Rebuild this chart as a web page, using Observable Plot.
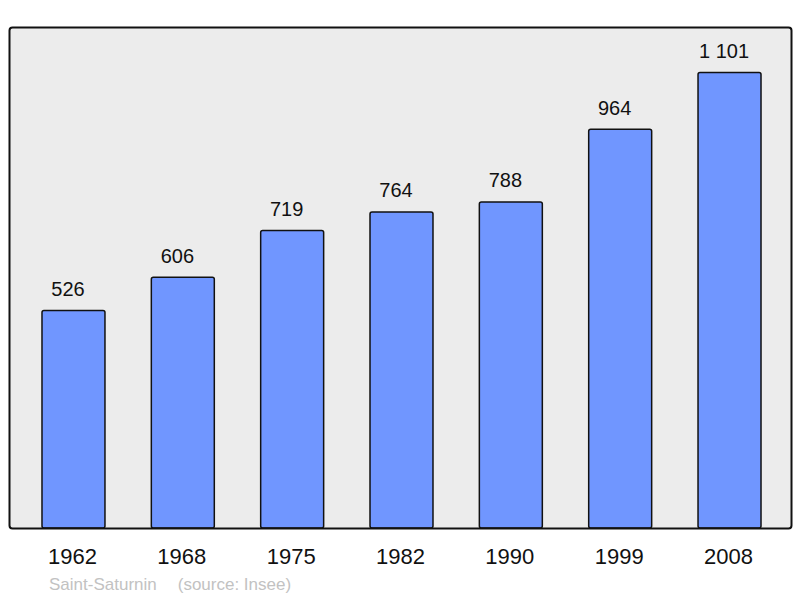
<!DOCTYPE html>
<html>
<head>
<meta charset="utf-8">
<script src="https://cdn.jsdelivr.net/npm/d3@7"></script>
<script src="https://cdn.jsdelivr.net/npm/@observablehq/plot@0.6"></script>
<style>
  body { margin: 0; background: #fff; font-family: "Liberation Sans", Arial, sans-serif; }
  #wrap { position: relative; width: 800px; height: 598px; }
  #caption { position: absolute; left: 49px; top: 575px; font-size: 17px; color: #c2c2c2; white-space: pre; }
</style>
</head>
<body>
<div id="wrap">
  <div id="chart"></div>
  <div id="caption"><span>Saint-Saturnin</span><span style="margin-left:21px">(source: Insee)</span></div>
</div>
<script>
const years = ["1962", "1968", "1975", "1982", "1990", "1999", "2008"];
const population = [526, 606, 719, 764, 788, 964, 1101];

const data = years.map((y, i) => ({year: y, value: population[i]}));
const fmt = v => String(v).replace(/\B(?=(\d{3})+(?!\d))/g, " ");

const chart = Plot.plot({
  width: 800,
  height: 598,
  marginLeft: 9,
  marginRight: 9,
  marginTop: 27,
  marginBottom: 70,
  style: {fontFamily: "Liberation Sans, Arial, sans-serif", background: "transparent"},
  x: {domain: years, range: [10.5, 792.5], paddingInner: 0.424, paddingOuter: 0.288, round: false, label: null},
  y: {domain: [0, 1211], axis: null},
  marks: [
    Plot.frame({fill: "#ececec", stroke: "none", rx: 3}),
    Plot.barY(data, {x: "year", y: "value", fill: "#7096ff", stroke: "#111", strokeWidth: 1.5, rx: 2}),
    Plot.text(data, {x: "year", y: "value", text: d => fmt(d.value), dy: -15, dx: -6, lineAnchor: "bottom", fontSize: 20, fill: "#111"}),
    Plot.axisX({tickSize: 0, tickPadding: 20, dx: -1.5, fontSize: 22, label: null, color: "#111"}),
    Plot.frame({stroke: "#111", strokeWidth: 2, rx: 3})
  ]
});
document.getElementById("chart").appendChild(chart);
</script>
</body>
</html>
